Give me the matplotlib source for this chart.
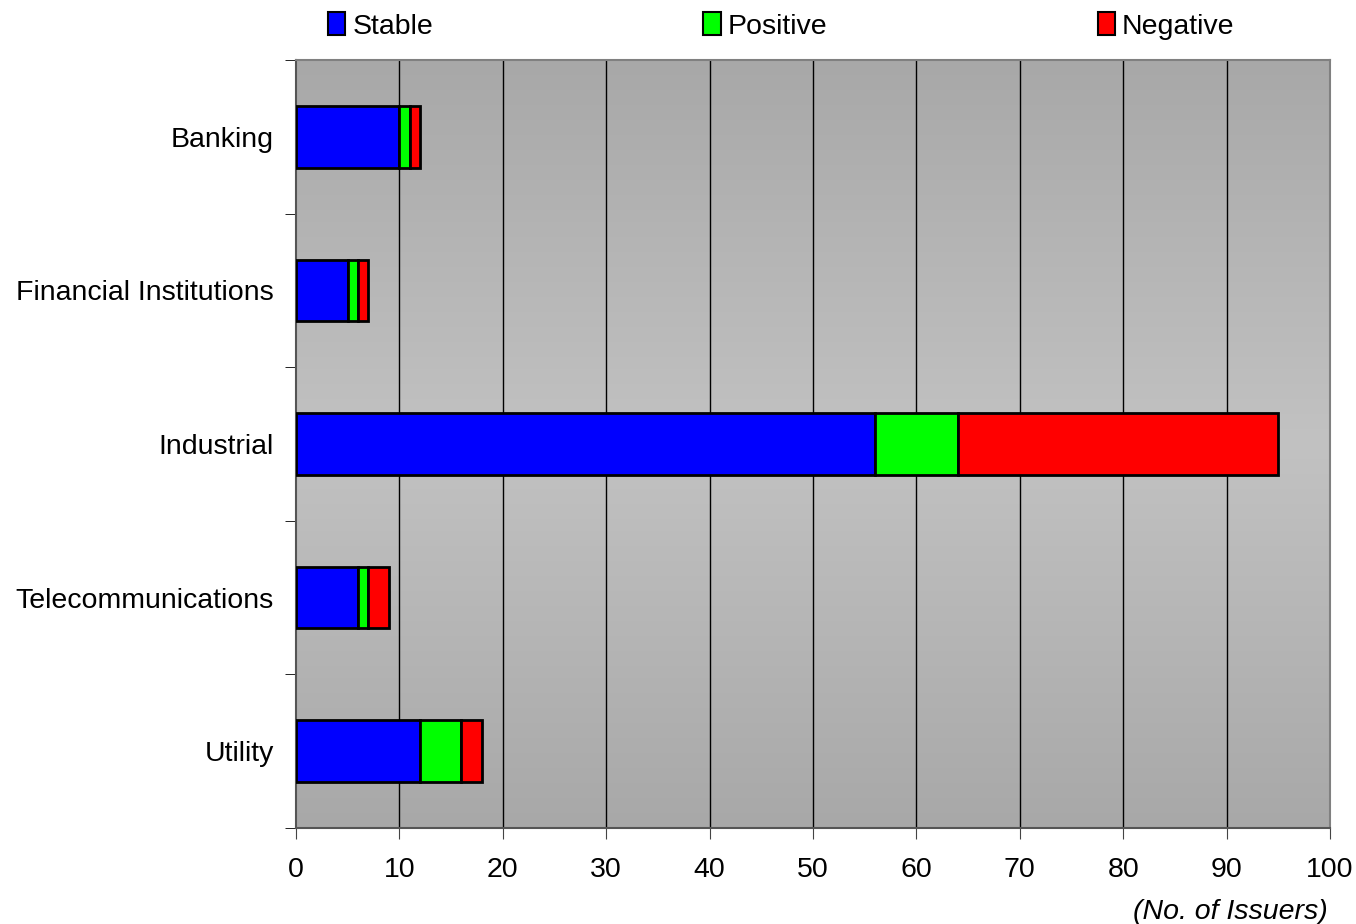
import matplotlib
matplotlib.use("Agg")
import matplotlib.pyplot as plt
import numpy as np
from matplotlib.colors import LinearSegmentedColormap
from matplotlib.patches import Patch

plt.rcParams['font.family'] = ['Liberation Sans', 'DejaVu Sans']

# outlook counts per sector
sectors = ['Banking', 'Financial Institutions', 'Industrial', 'Telecommunications', 'Utility']
stable = [10, 5, 56, 6, 12]
positive = [1, 1, 8, 1, 4]
negative = [1, 1, 31, 2, 2]
series_names = ['Stable', 'Positive', 'Negative']
series_colors = ['#0000ff', '#00ff00', '#ff0000']
x_ticks = list(range(0, 101, 10))

FS = 20.5

fig = plt.figure(figsize=(13.56, 9.24), dpi=100)
ax = fig.add_axes([296/1356, 1 - 828/924, (1330-296)/1356, (828-60)/924])

# gray gradient background: darker at top and bottom, lighter in the middle
grad = LinearSegmentedColormap.from_list('bg', ['#a8a8a8', '#c2c2c2', '#a8a8a8'])
ax.imshow(np.linspace(0, 1, 256).reshape(-1, 1), cmap=grad, aspect='auto',
          extent=[0, 100, 4.5, -0.5], zorder=0)

y = np.arange(len(sectors))
left = np.zeros(len(sectors))
for vals, name, col in zip([stable, positive, negative], series_names, series_colors):
    ax.barh(y, vals, left=left, height=0.4, color=col, edgecolor='black',
            linewidth=2, label=name, zorder=3)
    left += np.array(vals)

ax.set_xlim(0, 100)
ax.set_ylim(4.5, -0.5)
ax.set_xticks(x_ticks)
ax.set_xticklabels([str(v) for v in x_ticks], fontsize=FS)
for xv in x_ticks[1:-1]:
    ax.axvline(xv, color='black', linewidth=1, zorder=1)

ax.set_yticks(y)
ax.set_yticklabels(sectors, fontsize=FS)
ax.set_yticks(np.arange(-0.5, 5.0, 1.0), minor=True)
ax.tick_params(axis='y', which='major', length=0, pad=16)
ax.tick_params(axis='y', which='minor', length=8, direction='out', color='black')
ax.tick_params(axis='x', length=8, direction='out', pad=13, color='#444444')

for s in ax.spines.values():
    s.set_color('#808080')
    s.set_linewidth(1.5)
ax.spines['left'].set_color('#555555')
ax.spines['bottom'].set_color('#555555')

handles = [Patch(facecolor=c, edgecolor='black', linewidth=1.5) for c in series_colors]
fig.legend(handles, series_names, loc='center left', bbox_to_anchor=(328/1356, 1 - 26/924),
           ncol=3, frameon=False, fontsize=FS, handlelength=0.6, handleheight=0.85,
           handletextpad=0.25, columnspacing=9.5, borderaxespad=0, borderpad=0)

fig.text(1328/1356, 1 - 912/924, '(No. of Issuers)', ha='right', va='center',
         fontsize=FS, style='italic')

fig.savefig('out.png', dpi=100)
